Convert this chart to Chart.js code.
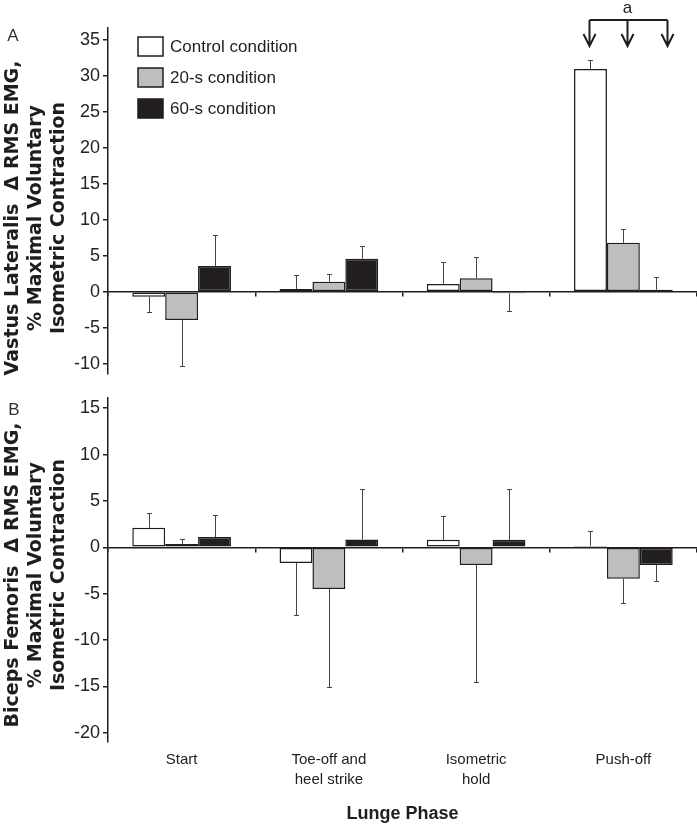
<!DOCTYPE html>
<html>
<head>
<meta charset="utf-8">
<script src="https://cdn.jsdelivr.net/npm/chart.js@4.4.1/dist/chart.umd.min.js"></script>
<style>
  html, body { margin: 0; padding: 0; background: #fff; }
  #wrap { position: relative; width: 697px; height: 826px; overflow: hidden; }
  #boxA { position: absolute; left: 0; top: 0; width: 697px; height: 400px; }
  #boxB { position: absolute; left: 0; top: 380px; width: 697px; height: 446px; }
</style>
</head>
<body>
<div id="wrap">
  <div id="boxA"><canvas id="chartA"></canvas></div>
  <div id="boxB"><canvas id="chartB"></canvas></div>
</div>
<script>
// Categories / series
var phases = ['Start', ['Toe-off and', 'heel strike'], ['Isometric', 'hold'], 'Push-off'];
var conditions = ['Control condition', '20-s condition', '60-s condition'];

// Panel A - vastus lateralis (mean change, SD)
var vlControl   = [-0.7, 0.4, 1.1, 30.9];
var vlControlSD = [2.1, 2.0, 3.05, 1.2];
var vl20s       = [-3.9, 1.4, 1.9, 6.8];
var vl20sSD     = [6.35, 1.05, 2.95, 1.95];
var vl60s       = [3.6, 4.6, -0.2, 0.3];
var vl60sSD     = [4.3, 1.7, 2.5, 1.7];

// Panel B - biceps femoris
var bfControl   = [2.1, -1.7, 0.8, 0.15];
var bfControlSD = [1.6, 5.6, 2.55, 1.6];
var bf20s       = [0.35, -4.5, -1.9, -3.4];
var bf20sSD     = [0.5, 10.6, 12.6, 2.6];
var bf60s       = [1.1, 0.85, 0.8, -1.9];
var bf60sSD     = [2.4, 5.45, 5.5, 1.7];

var fills = ['#ffffff', '#bcbec0', '#231f20'];
var ink = '#1e1e1e';
var sans = '"Liberation Sans", Arial, Helvetica, sans-serif';

// error bars, one-sided away from zero
var errorBars = {
  id: 'errorBars',
  afterDatasetsDraw: function(chart) {
    var ctx = chart.ctx, y = chart.scales.y;
    ctx.save();
    ctx.strokeStyle = '#444';
    ctx.lineWidth = 1;
    chart.data.datasets.forEach(function(ds, i) {
      chart.getDatasetMeta(i).data.forEach(function(bar, j) {
        var v = ds.data[j], sd = ds.sd[j];
        var end = Math.round(y.getPixelForValue(v < 0 ? v - sd : v + sd)) + 0.5;
        var x = Math.round(bar.x) + 0.5;
        ctx.beginPath();
        ctx.moveTo(x, bar.y);
        ctx.lineTo(x, end);
        ctx.moveTo(x - 2.5, end);
        ctx.lineTo(x + 2.5, end);
        ctx.stroke();
      });
    });
    ctx.restore();
  }
};

// rotated multi-line axis title + panel letter
var sideTitle = {
  id: 'sideTitle',
  afterDraw: function(chart, args, o) {
    var ctx = chart.ctx;
    ctx.save();
    ctx.fillStyle = ink;
    ctx.font = 'bold 19px "DejaVu Sans", sans-serif';
    ctx.textAlign = 'center';
    ctx.textBaseline = 'alphabetic';
    o.lines.forEach(function(t, i) {
      ctx.save();
      ctx.translate(o.x[i], o.cy);
      ctx.rotate(-Math.PI / 2);
      ctx.fillText(t, 0, 0);
      ctx.restore();
    });
    ctx.font = '17px ' + sans;
    ctx.fillStyle = '#333';
    ctx.textBaseline = 'middle';
    ctx.fillText(o.letter, o.letterX, o.letterY);
    ctx.restore();
  }
};

var boxLegend = {
  id: 'boxLegend',
  afterDraw: function(chart, args, o) {
    if (!o.show) return;
    var ctx = chart.ctx;
    ctx.save();
    chart.data.datasets.forEach(function(ds, i) {
      var cy = o.top + i * o.gap;
      ctx.fillStyle = ds.backgroundColor;
      ctx.fillRect(o.left, cy - 9.5, 25, 19);
      ctx.strokeStyle = ink;
      ctx.lineWidth = 1.5;
      ctx.strokeRect(o.left, cy - 9.5, 25, 19);
      ctx.fillStyle = ink;
      ctx.font = '17px ' + sans;
      ctx.textBaseline = 'middle';
      ctx.textAlign = 'left';
      ctx.fillText(ds.label, o.left + 32, cy + 1);
    });
    ctx.restore();
  }
};

// significance bracket over push-off
var bracket = {
  id: 'bracket',
  afterDraw: function(chart, args, o) {
    if (!o.show) return;
    var ctx = chart.ctx;
    var xs = chart.data.datasets.map(function(ds, i) {
      return Math.round(chart.getDatasetMeta(i).data[o.index].x + o.shift[i]) + 0.5;
    });
    ctx.save();
    ctx.strokeStyle = ink;
    ctx.lineWidth = 2;
    ctx.beginPath();
    ctx.moveTo(xs[0], o.lineY);
    ctx.lineTo(xs[xs.length - 1], o.lineY);
    xs.forEach(function(x) {
      ctx.moveTo(x, o.lineY);
      ctx.lineTo(x, o.tipY);
      ctx.moveTo(x - 6, o.tipY - 12);
      ctx.lineTo(x, o.tipY);
      ctx.lineTo(x + 6, o.tipY - 12);
    });
    ctx.stroke();
    ctx.fillStyle = ink;
    ctx.font = '17px ' + sans;
    ctx.textAlign = 'center';
    ctx.textBaseline = 'middle';
    ctx.fillText(o.label, xs[1], o.lineY - 12);
    ctx.restore();
  }
};

function makeSets(a, b, c, sa, sb, sc) {
  return [a, b, c].map(function(vals, i) {
    return {
      label: conditions[i],
      data: vals,
      sd: [sa, sb, sc][i],
      backgroundColor: fills[i],
      borderColor: ink,
      borderWidth: 1.5,
      borderSkipped: false,
      xAxisID: 'x',
      categoryPercentage: 0.67,
      barPercentage: 1.0
    };
  });
}

function makePanel(id, sets, p) {
  var scales = {
    x: {
      axis: 'x',
      type: 'category',
      position: { y: 0 },
      offset: true,
      ticks: { display: false },
      grid: { display: true, offset: true, drawOnChartArea: false, drawTicks: true, tickLength: 4, color: ink, lineWidth: 1.5 },
      border: { display: true, color: ink, width: 1.5 }
    },
    y: {
      min: p.min, max: p.max,
      position: 'left',
      ticks: { stepSize: 5, includeBounds: false, color: '#222', padding: 3, font: { size: 18, family: sans } },
      grid: { display: true, drawOnChartArea: false, drawTicks: true, tickLength: 5, color: ink, lineWidth: 1.5 },
      border: { display: true, color: ink, width: 1.5 },
      afterFit: function(s) { s.width = 108; }
    }
  };
  if (p.bottomAxis) {
    scales.x2 = {
      type: 'category',
      labels: phases,
      position: 'bottom',
      offset: true,
      grid: { display: false },
      border: { display: false },
      ticks: { color: '#222', padding: 0, maxRotation: 0, autoSkip: false, font: { size: 15, family: sans, lineHeight: 1.33 } },
      title: { display: true, text: 'Lunge Phase', color: ink, padding: { top: 0, bottom: 1 }, font: { size: 18, weight: 'bold', family: sans } },
      afterFit: function(s) { s.height = 84; }
    };
  }
  return new Chart(document.getElementById(id), {
    type: 'bar',
    data: { labels: phases, datasets: sets },
    options: {
      responsive: true,
      maintainAspectRatio: false,
      animation: false,
      layout: { padding: p.padding },
      plugins: {
        legend: { display: false },
        tooltip: { enabled: false },
        sideTitle: p.title,
        boxLegend: { show: !!p.legend, left: 138, top: 46.5, gap: 31 },
        bracket: { show: !!p.bracket, index: 3, shift: [-1, 4, 11], lineY: 20, tipY: 46, label: 'a' }
      },
      scales: scales
    },
    plugins: [errorBars, sideTitle, boxLegend, bracket]
  });
}

makePanel('chartA', makeSets(vlControl, vl20s, vl60s, vlControlSD, vl20sSD, vl60sSD), {
  min: -11.4, max: 36.6,
  padding: { top: 28, bottom: 26, left: 0, right: 0 },
  legend: true, bracket: true,
  title: { lines: ['Vastus Lateralis  \u0394 RMS EMG,', '% Maximal Voluntary', 'Isometric Contraction'], x: [18, 41, 64], cy: 218, letter: 'A', letterX: 13, letterY: 36 }
});

makePanel('chartB', makeSets(bfControl, bf20s, bf60s, bfControlSD, bf20sSD, bf60sSD), {
  min: -21.0, max: 16.1,
  padding: { top: 18, bottom: 0, left: 0, right: 0 },
  bottomAxis: true,
  title: { lines: ['Biceps Femoris  \u0394 RMS EMG,', '% Maximal Voluntary', 'Isometric Contraction'], x: [18, 41, 64], cy: 195, letter: 'B', letterX: 14, letterY: 30 }
});
</script>
</body>
</html>
